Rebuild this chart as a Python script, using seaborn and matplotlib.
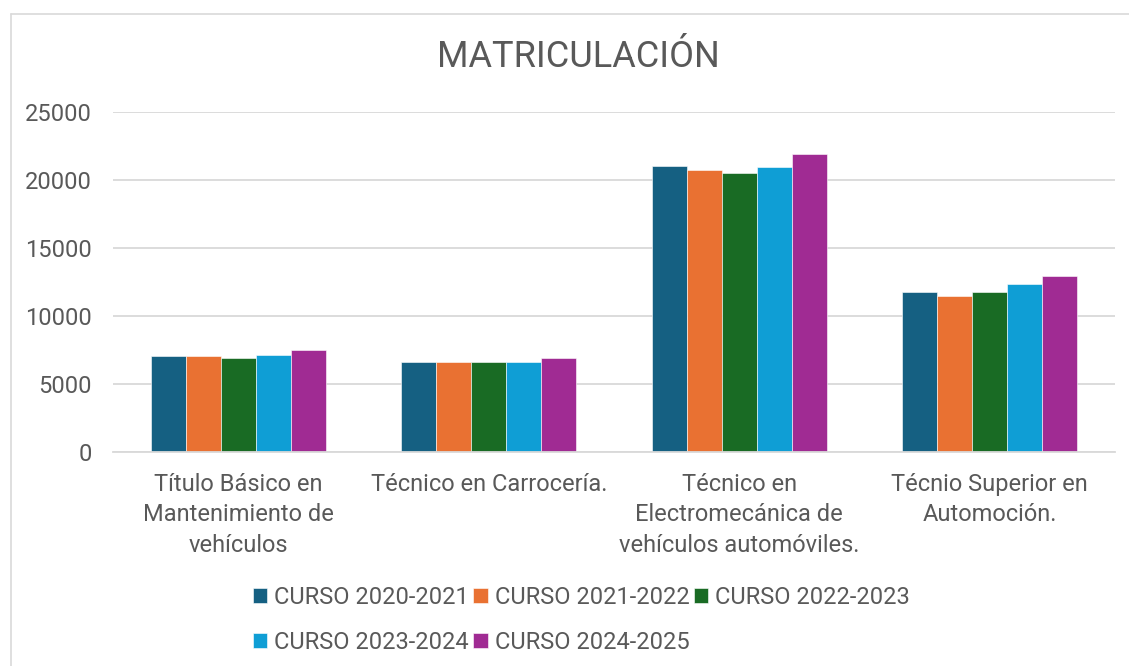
"""
Matriculación por ciclo formativo y curso: barras agrupadas
- guarda la figura en out.png
"""

import pandas as pd
import matplotlib.pyplot as plt
import seaborn as sns
from matplotlib.lines import Line2D

categorias = [
    "Título Básico en\nMantenimiento de\nvehículos",
    "Técnico en Carrocería.",
    "Técnico en\nElectromecánica de\nvehículos automóviles.",
    "Técnio Superior en\nAutomoción.",
]
cursos = ["CURSO 2020-2021", "CURSO 2021-2022", "CURSO 2022-2023",
          "CURSO 2023-2024", "CURSO 2024-2025"]

curso_2020_2021 = [7030, 6620, 21000, 11800]
curso_2021_2022 = [7050, 6620, 20700, 11500]
curso_2022_2023 = [6900, 6600, 20500, 11800]
curso_2023_2024 = [7130, 6600, 20920, 12370]
curso_2024_2025 = [7500, 6930, 21920, 12950]

colores = ["#156082", "#E97132", "#196B24", "#0F9ED5", "#A02B93"]
gris_texto = "#595959"
gris_linea = "#D9D9D9"

series = [curso_2020_2021, curso_2021_2022, curso_2022_2023,
          curso_2023_2024, curso_2024_2025]
filas = []
for curso, valores in zip(cursos, series):
    for cat, v in zip(categorias, valores):
        filas.append({"categoria": cat, "curso": curso, "matriculados": v})
df = pd.DataFrame(filas)

sns.set_theme(style="white")
plt.rcParams["font.family"] = ["Roboto", "DejaVu Sans"]

fig = plt.figure(figsize=(11.29, 6.66), dpi=100)
ax = fig.add_axes([113 / 1129, 1 - 452 / 666, (1115 - 113) / 1129, 340 / 666])

sns.barplot(data=df, x="categoria", y="matriculados", hue="curso",
            order=categorias, hue_order=cursos, palette=colores,
            saturation=1, width=0.7, errorbar=None,
            edgecolor="white", linewidth=0.4, ax=ax)

ax.set_ylim(0, 25000)
ax.set_yticks(range(0, 25001, 5000))
ax.yaxis.grid(True, color=gris_linea, linewidth=1.3)
ax.set_axisbelow(True)
for s in ["top", "right", "left"]:
    ax.spines[s].set_visible(False)
ax.spines["bottom"].set_color(gris_linea)
ax.spines["bottom"].set_linewidth(1.3)
ax.set_xlabel("")
ax.set_ylabel("")
ax.tick_params(axis="both", length=0, labelsize=17, colors=gris_texto)
ax.tick_params(axis="y", pad=15)
ax.tick_params(axis="x", pad=15)
for t in ax.get_xticklabels():
    t.set_linespacing(1.42)

# leyenda en dos filas, rellenada por filas
h, l = ax.get_legend_handles_labels()
orden = [0, 3, 1, 4, 2]
ax.legend_.remove()
fig.legend([h[i] for i in orden], [l[i] for i in orden], ncol=3,
           loc="upper center", bbox_to_anchor=(0.515, 1 - 574 / 666),
           frameon=False, fontsize=17, labelcolor=gris_texto,
           handlelength=0.6, handleheight=0.6, handletextpad=0.3,
           columnspacing=0.2, labelspacing=0.95, borderpad=0)

fig.text(0.512, 1 - 57 / 666, "MATRICULACIÓN", ha="center", va="center",
         fontsize=26, color=gris_texto)

# borde del área del gráfico
x0 = 10.5 / 1129
y0 = 1 - 13.5 / 666
fig.add_artist(Line2D([x0, 1.0], [y0, y0], transform=fig.transFigure,
                      color=gris_linea, linewidth=1.2))
fig.add_artist(Line2D([x0, x0], [0.0, y0], transform=fig.transFigure,
                      color=gris_linea, linewidth=1.2))

fig.savefig("out.png", dpi=100)
